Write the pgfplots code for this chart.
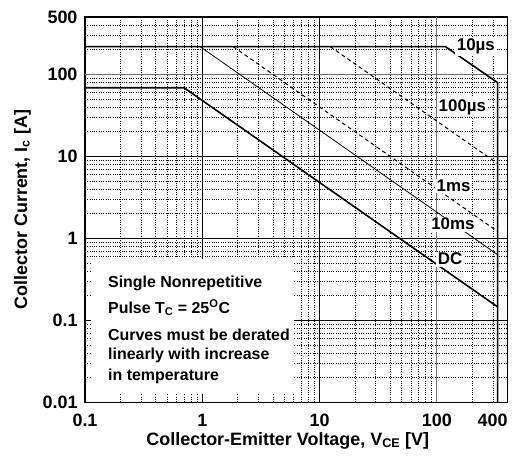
\documentclass[border=0pt]{standalone}
\usepackage{fontspec}
\setmainfont{Liberation Sans}
\usepackage{pgfplots}
\pgfplotsset{compat=1.18}
\usetikzlibrary{calc}

\begin{document}
\begin{tikzpicture}
  \begin{axis}[
    scale only axis,
    width=422.5bp, height=385.3bp,
    xmode=log, ymode=log,
    xmin=0.1, xmax=400,
    ymin=0.01, ymax=500,
    xtick={0.1,1,10,400},
    xticklabels={0.1,1,10,\makebox[0pt][r]{400}},
    extra x ticks={100}, extra x tick labels={100},
    ytick={0.01,0.1,1,10,500},
    yticklabels={0.01,0.1,1,10,500},
    extra y ticks={100}, extra y tick labels={100},
    minor xtick={0.2,0.3,0.4,0.5,0.6,0.7,0.8,0.9,2,3,4,5,6,7,8,9,20,30,40,50,60,70,80,90,200,300},
    minor ytick={0.02,0.03,0.04,0.05,0.06,0.07,0.08,0.09,0.2,0.3,0.4,0.5,0.6,0.7,0.8,0.9,2,3,4,5,6,7,8,9,20,30,40,50,60,70,80,90,200,300,400},
    grid=both,
    major grid style={black, line width=0.8pt},
    minor grid style={black, line width=0.5pt, dash pattern=on 1bp off 1.3bp},
    extra tick style={grid=major, major grid style={black!55, line width=1.1pt}},
    major tick length=0pt, minor tick length=0pt,
    axis line style={line width=1.4pt},
    tick label style={font=\fontsize{18}{18}\selectfont\bfseries},
    xticklabel style={yshift=-8bp},
    yticklabel style={xshift=-4bp},
    xlabel={Collector-Emitter Voltage, V\textsubscript{CE} [V]},
    ylabel={Collector Current, I\textsubscript{c} [A]},
    label style={font=\fontsize{18}{18}\selectfont\bfseries},
    xlabel style={at={(rel axis cs:0.48,0)}, anchor=base, yshift=-42.7bp},
    ylabel style={at={(rel axis cs:0,0.5)}, anchor=center, yshift=62.5bp},
    clip=true,
  ]
    % 10 us
    \addplot[black, line width=1.6pt] coordinates {(0.1,218) (118,218) (330,79) (330,0.01)};
    % 100 us
    \addplot[black, line width=1pt, dash pattern=on 4bp off 3bp] coordinates {(12.3,218) (330,8.14)};
    % 1 ms
    \addplot[black, line width=1pt, dash pattern=on 4bp off 3bp] coordinates {(1.83,218) (330,1.21)};
    % 10 ms
    \addplot[black, line width=0.8pt] coordinates {(0.955,218) (330,0.63)};
    % DC
    \addplot[black, line width=1.6pt] coordinates {(0.1,68.5) (0.7,68.5) (330,0.1455)};

    \node[fill=white, inner sep=0pt, minimum width=203bp, minimum height=135bp, anchor=north west]
      at (axis cs:0.113,0.57) {};
    \begin{scope}[font=\fontsize{16}{16}\selectfont\bfseries]
      \node[anchor=base west, inner sep=0pt] at (axis cs:0.157,0.2535) {Single Nonrepetitive};
      \node[anchor=base west, inner sep=0pt] at (axis cs:0.157,0.1218) {Pulse T\textsubscript{C} = 25\textsuperscript{O}C};
      \node[anchor=base west, inner sep=0pt] at (axis cs:0.157,0.0569) {Curves must be derated};
      \node[anchor=base west, inner sep=0pt] at (axis cs:0.157,0.0333) {linearly with increase};
      \node[anchor=base west, inner sep=0pt] at (axis cs:0.157,0.01843) {in temperature};
    \end{scope}
    \begin{scope}[font=\fontsize{17}{17}\selectfont\bfseries]
      \node[fill=white, inner sep=1.5bp] at (axis cs:215,218) {10µs};
      \node[fill=white, inner sep=1.5bp] at (axis cs:165,39.4) {100µs};
      \node[fill=white, inner sep=1.5bp] at (axis cs:139,4.35) {1ms};
      \node[fill=white, inner sep=1.5bp] at (axis cs:137,1.49) {10ms};
      \node[fill=white, inner sep=1.5bp] at (axis cs:129.5,0.559) {DC};
    \end{scope}
  \end{axis}
  \pgfresetboundingbox
  \useasboundingbox ($(current axis.south west)+(-85bp,-59bp)$) rectangle ($(current axis.north east)+(20.5bp,17bp)$);
\end{tikzpicture}
\end{document}
